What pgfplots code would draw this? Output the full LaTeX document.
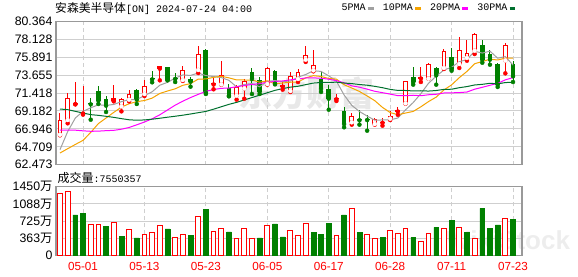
\documentclass[border=0pt]{standalone}
\usepackage{fontspec}
\setmainfont{Liberation Sans}
\newfontfamily\cjk{Noto Sans CJK SC}
\newfontfamily\monof{Liberation Mono}
\usepackage{pgfplots}
\usepackage{pgfplotstable}
\pgfplotsset{compat=1.18}
\definecolor{upred}{HTML}{FF0000}
\definecolor{dngreen}{HTML}{008000}
\definecolor{ma5}{HTML}{A0A0A0}
\definecolor{ma10}{HTML}{F5A300}
\definecolor{ma20}{HTML}{FF00FF}
\definecolor{ma30}{HTML}{00702E}
\definecolor{gridc}{HTML}{CFCFCF}
\definecolor{framec}{HTML}{999999}
% rising candles (close >= open): index, open, high, low, close
\pgfplotstableread{
x O H L C
0 66.22 68.92 66.14 68.01
1 68.05 71.38 67.64 70.80
2 70.02 72.77 70.00 70.18
3 68.85 72.30 68.72 69.00
7 70.46 72.38 70.38 70.75
8 69.76 70.80 69.13 70.63
9 70.59 71.79 70.38 71.25
11 71.29 73.04 71.04 72.25
13 74.46 74.83 73.00 74.74
16 73.04 74.83 72.92 74.25
18 74.29 77.32 73.91 76.28
20 72.48 73.33 71.88 72.62
21 72.50 75.45 72.46 73.66
23 71.09 72.46 70.59 72.13
24 72.00 73.12 70.71 72.96
27 72.54 74.62 72.46 74.54
29 72.20 72.87 71.84 72.36
30 71.67 74.04 71.54 73.50
31 73.17 74.41 72.79 74.00
32 75.58 77.32 75.29 76.20
33 74.25 76.74 74.12 74.95
36 70.63 71.34 70.42 70.78
38 67.76 68.92 67.47 68.51
41 67.55 68.30 67.47 68.13
42 67.70 68.30 67.34 67.86
43 68.22 69.21 68.05 68.55
44 69.10 69.70 68.70 69.26
45 70.13 72.96 70.09 72.87
47 73.22 74.62 72.79 73.38
48 73.21 75.16 73.20 75.04
50 74.54 76.91 74.41 76.70
52 75.04 78.36 74.54 76.83
53 75.79 77.99 75.45 76.37
54 76.70 78.95 76.28 78.82
58 75.49 77.66 73.87 77.37
}\upcandles
% falling candles (close < open)
\pgfplotstableread{
x O H L C
4 70.16 70.80 68.09 70.00
5 71.67 72.29 70.05 70.46
6 70.67 71.09 69.05 69.84
10 71.79 71.90 70.05 70.59
12 73.27 74.21 72.75 73.11
14 74.62 74.70 73.00 73.04
15 73.35 73.87 72.79 73.17
17 73.17 73.46 72.21 72.83
19 76.78 76.87 71.29 71.42
22 72.00 72.54 71.00 71.09
25 74.04 74.54 71.29 73.17
26 73.00 73.37 71.29 71.59
28 74.21 74.29 72.50 72.58
34 73.17 74.12 71.55 71.92
35 71.92 72.46 69.34 70.71
37 69.13 69.63 67.14 67.55
39 68.22 69.26 67.47 68.02
40 68.20 68.63 66.72 68.04
46 73.42 74.62 72.46 72.75
49 74.54 74.62 72.46 73.62
51 75.87 77.03 74.20 74.41
55 77.37 77.99 75.20 75.58
56 76.28 76.74 74.95 75.58
57 75.04 75.10 72.17 72.46
59 75.04 75.45 72.79 73.50
}\dncandles
\pgfplotsset{
  maleg/.style={legend image code/.code={\path[draw=none,fill=none] (0pt,0pt) -- (17.3pt,0pt); \draw[line width=2.5pt] (2.3pt,0pt) -- (8pt,0pt);}},
  ebar/.style 2 args={color=#1, only marks, mark=none, forget plot, error bars/.cd, y dir=plus, y explicit, error mark=none, error bar style={draw=#1, #2}, /pgfplots/.cd},
}
\begin{document}
\begin{tikzpicture}
\path[use as bounding box] (0pt,0pt) rectangle (578pt,-276pt);
% watermarks
\node[text=black!9, font=\cjk\bfseries\fontsize{34}{36}\selectfont] at (306pt,-93pt) {东方财富};
\node[text=black!7, font=\bfseries\fontsize{26}{28}\selectfont] at (508pt,-240pt) {WikiStock};
% title
\node[anchor=west, inner sep=0pt] at (55pt,-8.3pt) {{\cjk\fontsize{11.8}{13}\selectfont 安森美半导体}{\monof\fontsize{10}{12}\selectfont [ON] 2024-07-24 04:00}};
\node[anchor=west, inner sep=0pt] at (57.3pt,-177.7pt) {{\cjk\fontsize{12}{14}\selectfont 成交量}{\monof\fontsize{10}{12}\selectfont :7550357}};
\begin{axis}[
  at={(56pt,-21.3pt)}, anchor=north west,
  scale only axis, width=466pt, height=143.4pt,
  xmin=-0.52, xmax=60.17, ymin=62.473, ymax=80.364,
  axis line style={framec, line width=1.5pt},
  xtick={3,11,19,27,35,43,51,59}, xticklabels={},
  ytick={62.473,64.709,66.946,69.182,71.418,73.655,75.891,78.128,80.364},
  yticklabels={62.473,64.709,66.946,69.182,71.418,73.655,75.891,78.128,80.364},
  major tick length=0pt,
  xmajorgrids, ymajorgrids,
  x grid style={gridc, line width=0.9pt, dash pattern=on 4pt off 3pt},
  y grid style={gridc, line width=0.9pt},
  yticklabel style={font=\fontsize{12.3}{14}\selectfont, anchor=east, inner sep=0pt, xshift=-3.4pt, text=black},
  legend plot pos=right,
  legend columns=4,
  legend style={at={(axis description cs:0.6058,1.0907)}, anchor=west, draw=none, fill=none, font=\monof\fontsize{10}{12}\selectfont, nodes={inner sep=0pt}, cells={anchor=west}, column sep=0pt},
]
% wicks
\addplot[ebar={upred}{line width=1pt}] table[x=x, y=L, y error plus expr=\thisrow{H}-\thisrow{L}] {\upcandles};
\addplot[ebar={dngreen}{line width=1pt}] table[x=x, y=L, y error plus expr=\thisrow{H}-\thisrow{L}] {\dncandles};
% bodies
\addplot[ebar={upred}{line width=4.8pt}] table[x=x, y=O, y error plus expr=\thisrow{C}-\thisrow{O}] {\upcandles};
\addplot[restrict expr to domain={\thisrow{C}-\thisrow{O}}{0.3:100}, ebar={white}{line width=2.8pt, shorten <=1pt, shorten >=1pt}] table[x=x, y=O, y error plus expr=\thisrow{C}-\thisrow{O}] {\upcandles};
\addplot[ebar={dngreen}{line width=4.8pt}] table[x=x, y=C, y error plus expr=\thisrow{O}-\thisrow{C}] {\dncandles};
\addplot[ma5, line width=1pt, mark=none, maleg] table {
x y
0 64.35
1 66.60
2 68.30
3 69.13
4 69.57
5 69.95
6 69.87
7 69.99
8 70.34
9 70.59
10 70.61
11 71.09
12 71.57
13 72.39
14 72.75
15 73.27
16 73.67
17 73.61
18 73.91
19 73.59
20 73.47
21 73.35
22 73.00
23 72.18
24 72.48
25 72.60
26 72.19
27 72.88
28 72.97
29 72.85
30 72.91
31 73.39
32 73.73
33 74.20
34 74.11
35 73.56
36 72.90
37 71.17
38 69.88
39 69.11
40 68.54
41 68.02
42 68.06
43 68.07
44 68.30
45 69.31
46 70.23
47 71.34
48 72.64
49 73.52
50 74.29
51 74.62
52 75.32
53 75.59
54 76.63
55 76.40
56 76.64
57 75.76
58 75.96
59 74.90
};
\addlegendentry{5PMA}
\addplot[ma10, line width=1pt, mark=none, maleg] table {
x y
0 63.93
1 64.47
2 65.00
3 65.51
4 66.50
5 67.60
6 68.30
7 69.00
8 69.65
9 70.08
10 70.34
11 70.48
12 70.78
13 71.36
14 71.67
15 71.94
16 72.38
17 72.59
18 73.15
19 73.17
20 73.37
21 73.51
22 73.31
23 73.05
24 73.04
25 73.04
26 72.77
27 72.94
28 72.57
29 72.67
30 72.76
31 72.79
32 73.30
33 73.58
34 73.48
35 73.23
36 73.15
37 72.45
38 72.04
39 71.61
40 71.05
41 70.46
42 69.62
43 68.98
44 68.71
45 68.92
46 69.12
47 69.70
48 70.35
49 70.91
50 71.80
51 72.43
52 73.33
53 74.11
54 75.07
55 75.35
56 75.63
57 75.54
58 75.77
59 75.76
};
\addlegendentry{10PMA}
\addplot[ma20, line width=1pt, mark=none, maleg] table {
x y
0 66.80
1 66.80
2 66.78
3 66.70
4 66.64
5 66.66
6 66.72
7 66.76
8 66.90
9 67.12
10 67.45
11 67.80
12 68.20
13 68.70
14 69.30
15 69.90
16 70.40
17 70.85
18 71.25
19 71.62
20 71.85
21 72.00
22 72.04
23 72.20
24 72.35
25 72.49
26 72.58
27 72.77
28 72.86
29 72.92
30 73.06
31 73.15
32 73.30
33 73.31
34 73.26
35 73.14
36 72.96
37 72.70
38 72.31
39 72.14
40 71.90
41 71.63
42 71.46
43 71.28
44 71.09
45 71.08
46 71.14
47 71.08
48 71.20
49 71.26
50 71.42
51 71.44
52 71.47
53 71.54
54 71.89
55 72.13
56 72.38
57 72.62
58 73.06
59 73.34
};
\addlegendentry{20PMA}
\addplot[ma30, line width=1pt, mark=none, maleg] table {
x y
0 69.42
1 69.34
2 69.13
3 68.92
4 68.72
5 68.63
6 68.51
7 68.38
8 68.22
9 68.08
10 68.02
11 68.06
12 68.15
13 68.27
14 68.40
15 68.52
16 68.65
17 68.80
18 68.96
19 69.12
20 69.40
21 69.70
22 70.00
23 70.25
24 70.55
25 70.85
26 71.15
27 71.45
28 71.75
29 71.97
30 72.15
31 72.26
32 72.46
33 72.66
34 72.73
35 72.74
36 72.77
37 72.66
38 72.59
39 72.48
40 72.39
41 72.25
42 72.08
43 71.87
44 71.74
45 71.73
46 71.68
47 71.70
48 71.66
49 71.73
50 71.87
51 71.89
52 72.08
53 72.22
54 72.42
55 72.50
56 72.63
57 72.56
58 72.72
59 72.76
};
\addlegendentry{30PMA}
\end{axis}
\begin{axis}[
  at={(56pt,-186.7pt)}, anchor=north west,
  scale only axis, width=466pt, height=68.6pt,
  xmin=-0.52, xmax=60.17, ymin=0, ymax=1450,
  axis line style={framec, line width=1.5pt},
  xtick={3,11,19,27,35,43,51,59},
  xticklabels={05-01,05-13,05-23,06-05,06-17,06-28,07-11,07-23},
  ytick={0,363,725,1088,1450},
  yticklabels={0,363{\cjk 万},725{\cjk 万},1088{\cjk 万},1450{\cjk 万}},
  major tick length=0pt,
  xmajorgrids, ymajorgrids,
  x grid style={gridc, line width=0.9pt, dash pattern=on 4pt off 3pt},
  y grid style={gridc, line width=0.9pt},
  xticklabel style={font=\fontsize{11.7}{13}\selectfont, text=upred, anchor=center, yshift=-10.7pt},
  yticklabel style={font=\fontsize{12.3}{14}\selectfont, anchor=east, inner sep=0pt, xshift=-3.4pt, text=black},
]
\addplot[ybar, bar width=0.62, bar shift=0pt, draw=upred, fill=white, line width=1pt] table {
x y
0 1309
1 1351
4 655
5 655
7 697
9 549
11 443
12 486
13 634
15 380
16 443
18 824
20 507
21 570
23 359
24 570
25 359
27 634
30 528
31 422
32 676
36 422
38 992
40 443
41 359
43 528
44 464
45 570
47 296
48 464
50 570
52 591
54 359
58 781
};
\addplot[ybar, bar width=0.62, bar shift=0pt, draw=dngreen, fill=dngreen, line width=0.5pt] table {
x y
2 852
3 894
6 619
8 408
10 366
14 556
17 429
19 978
22 493
26 366
28 662
29 387
33 486
34 450
35 676
37 852
39 486
42 380
46 380
49 591
51 739
53 486
55 992
56 570
57 641
59 755
};
\end{axis}
\end{tikzpicture}
\end{document}
